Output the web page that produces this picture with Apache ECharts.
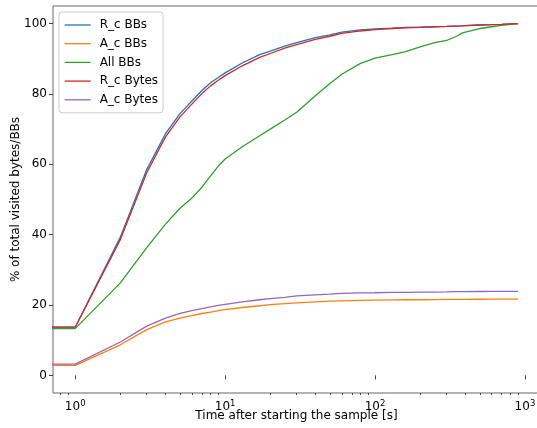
<!DOCTYPE html>
<html>
<head>
<meta charset="utf-8">
<script src="https://cdn.jsdelivr.net/npm/echarts@6/dist/echarts.min.js"></script>
<style>
html, body { margin: 0; padding: 0; background: #fff; }
#chart { width: 537px; height: 428px; }
</style>
</head>
<body>
<div id="chart"></div>
<script>
// time [s]; first point stands for t=0, clipped at the left edge of the log axis
var times = [0.5, 1, 2, 3, 4, 5, 6, 7, 8, 9, 10, 13, 17, 20, 25, 30, 40, 50, 60, 80, 100,
    130, 160, 200, 250, 300, 350, 380, 400, 500, 600, 700, 800, 900];

var rcBBs = [13.7, 13.7, 39.3, 58.5, 68.7, 74.4, 78, 81, 83.2, 84.7, 86, 88.8, 91.2, 92.2, 93.6, 94.6, 96, 96.8, 97.6, 98.2, 98.5,
    98.7, 98.9, 99.0, 99.1, 99.2, 99.3, 99.35, 99.4, 99.6, 99.7, 99.8, 99.9, 100];
var acBBs = [2.85, 2.85, 8.7, 13, 15.2, 16.3, 17.0, 17.6, 18.0, 18.4, 18.7, 19.3, 19.8, 20.1, 20.4, 20.6, 20.9, 21.1, 21.2, 21.35, 21.4,
    21.45, 21.5, 21.5, 21.55, 21.6, 21.6, 21.6, 21.6, 21.65, 21.7, 21.7, 21.7, 21.7];
var allBBs = [13.3, 13.3, 26.3, 36.3, 43, 47.5, 50.4, 53.5, 56.7, 59.5, 61.5, 65, 68.1, 70, 72.6, 74.8, 79.5, 83, 85.6, 88.7, 90.2,
    91.2, 92, 93.4, 94.6, 95.2, 96.4, 97.3, 97.6, 98.6, 99.1, 99.5, 99.8, 100];
var rcBytes = [13.7, 13.7, 38.6, 57.6, 67.8, 73.5, 77.1, 80.1, 82.3, 83.9, 85.2, 88, 90.4, 91.5, 93, 94, 95.5, 96.4, 97.2, 97.9, 98.3,
    98.6, 98.8, 98.9, 99.1, 99.2, 99.3, 99.35, 99.4, 99.6, 99.7, 99.8, 99.9, 100];
var acBytes = [3.2, 3.2, 9.5, 14.0, 16.3, 17.6, 18.4, 19.0, 19.5, 19.9, 20.2, 20.9, 21.5, 21.8, 22.2, 22.6, 22.9, 23.1, 23.3, 23.45, 23.5,
    23.6, 23.6, 23.7, 23.7, 23.75, 23.8, 23.8, 23.8, 23.85, 23.9, 23.9, 23.9, 23.9];

var seriesNames = ['R_c BBs', 'A_c BBs', 'All BBs', 'R_c Bytes', 'A_c Bytes'];
var seriesColors = ['#1f77b4', '#ff7f0e', '#2ca02c', '#d62728', '#9467bd'];
var seriesValues = [rcBBs, acBBs, allBBs, rcBytes, acBytes];

var xMajor = [1, 10, 100, 1000];
var xMinor = [0.8, 0.9, 2, 3, 4, 5, 6, 7, 8, 9, 20, 30, 40, 50, 60, 70, 80, 90,
    200, 300, 400, 500, 600, 700, 800, 900];
var yTicks = [0, 20, 40, 60, 80, 100];

var font = 'DejaVu Sans';
var myChart = echarts.init(document.getElementById('chart'));

var logAxis = {
    type: 'log',
    gridIndex: 0,
    position: 'bottom',
    min: 0.711,
    max: 1260,
    splitLine: { show: false },
    axisLine: { show: false }
};

myChart.setOption({
    backgroundColor: '#fff',
    animation: false,
    textStyle: { fontFamily: font },
    grid: {
        left: 53, top: 6, width: 487, height: 387,
        outerBoundsMode: 'none',
        containLabel: false,
        show: true, borderColor: '#666', borderWidth: 1
    },
    legend: {
        orient: 'vertical',
        left: 59, top: 12,
        padding: [7, 5, 7, 5],
        itemWidth: 26, itemHeight: 11, itemGap: 6.7,
        itemStyle: { opacity: 0 },
        lineStyle: { width: 1.3 },
        backgroundColor: 'rgba(255,255,255,0.8)',
        borderColor: '#ccc', borderWidth: 1, borderRadius: 3,
        textStyle: { fontFamily: font, fontSize: 12, color: '#000', padding: [0, 0, 0, 4] },
        data: seriesNames
    },
    xAxis: [
        Object.assign({}, logAxis, {
            name: 'Time after starting the sample [s]',
            nameLocation: 'middle',
            nameGap: 17,
            nameMoveOverlap: false,
            nameTextStyle: { fontFamily: font, fontSize: 12, color: '#000' },
            axisTick: { show: true, length: 4, lineStyle: { color: '#444' }, customValues: xMajor },
            axisLabel: {
                customValues: xMajor,
                margin: 6,
                formatter: function (v) {
                    return '{b|10}{s|' + Math.round(Math.log10(v)) + '}';
                },
                rich: {
                    b: { fontFamily: font, fontSize: 12, color: '#000' },
                    s: { fontFamily: font, fontSize: 8.5, color: '#000', padding: [0, 0, 6, 0] }
                }
            }
        }),
        Object.assign({}, logAxis, {
            axisTick: { show: true, length: 2, lineStyle: { color: '#444' }, customValues: xMinor },
            axisLabel: { show: false }
        })
    ],
    yAxis: {
        type: 'value',
        min: -5,
        max: 105,
        name: '% of total visited bytes/BBs',
        nameLocation: 'middle',
        nameGap: 31,
        nameMoveOverlap: false,
        nameTextStyle: { fontFamily: font, fontSize: 12, color: '#000' },
        splitLine: { show: false },
        axisLine: { show: false },
        axisTick: { show: true, length: 4, lineStyle: { color: '#444' }, customValues: yTicks },
        axisLabel: { customValues: yTicks, margin: 6, fontFamily: font, fontSize: 12, color: '#000' }
    },
    series: seriesNames.map(function (name, k) {
        return {
            name: name,
            type: 'line',
            xAxisIndex: 0,
            symbol: 'none',
            clip: true,
            color: seriesColors[k],
            lineStyle: { width: 1.3, color: seriesColors[k] },
            data: times.map(function (t, i) { return [t, seriesValues[k][i]]; })
        };
    })
});
</script>
</body>
</html>
